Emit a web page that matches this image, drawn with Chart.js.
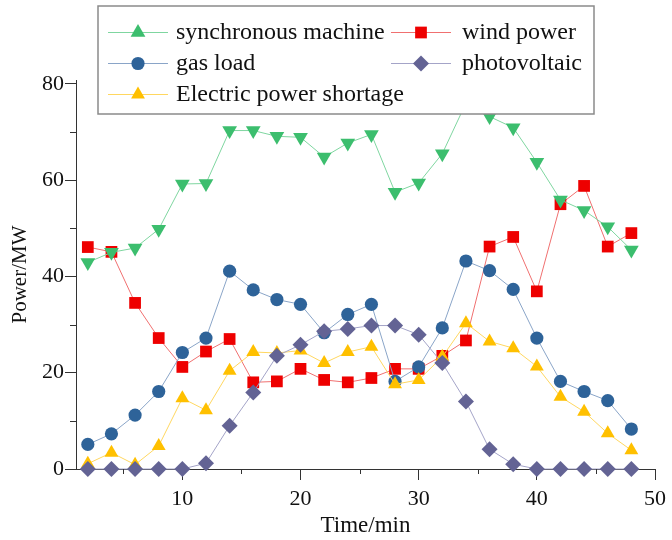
<!DOCTYPE html>
<html>
<head>
<meta charset="utf-8">
<script src="https://cdn.jsdelivr.net/npm/chart.js@4.4.1/dist/chart.umd.min.js"></script>
<style>
  body { margin: 0; background: #fff; }
  canvas { display: block; }
</style>
</head>
<body>
<canvas id="power-chart" width="672" height="540"></canvas>
<script>
// time points (min)
const timeMin = [2, 4, 6, 8, 10, 12, 14, 16, 18, 20, 22, 24, 26, 28, 30, 32, 34, 36, 38, 40, 42, 44, 46, 48];

// power of each source (MW)
const syncMachine = [42.9, 45.0, 45.9, 49.8, 59.2, 59.3, 70.3, 70.3, 69.1, 68.9, 64.8, 67.7, 69.5, 57.5, 59.4, 65.5, 76.0, 73.2, 70.9, 63.7, 55.9, 53.7, 50.3, 45.5];
const windPower = [46.1, 45.1, 34.5, 27.2, 21.2, 24.4, 27.0, 18.0, 18.2, 20.8, 18.5, 18.0, 18.9, 20.8, 20.8, 23.5, 26.7, 46.2, 48.2, 36.9, 55.0, 58.8, 46.2, 49.0];
const gasLoad = [5.1, 7.3, 11.2, 16.1, 24.2, 27.2, 41.1, 37.2, 35.2, 34.2, 28.3, 32.1, 34.2, 18.2, 21.2, 29.3, 43.2, 41.2, 37.3, 27.2, 18.2, 16.1, 14.2, 8.3];
const photovoltaic = [0, 0, 0, 0, 0, 1.2, 9.0, 15.9, 23.5, 25.8, 28.6, 29.1, 29.8, 29.8, 27.9, 22.0, 14.0, 4.1, 1.0, 0, 0, 0, 0, 0];
const powerShortage = [1.1, 3.4, 0.9, 4.8, 14.7, 12.2, 20.4, 24.3, 24.1, 24.6, 22.0, 24.3, 25.4, 17.6, 18.5, 23.3, 30.3, 26.5, 25.1, 21.3, 15.0, 11.9, 7.4, 3.9];

// axis ticks
const xMajor = [10, 20, 30, 40, 50];
const xMinor = [5, 15, 25, 35, 45];
const yMajor = [0, 20, 40, 60, 80];
const yMinor = [10, 30, 50, 70];

const serif = '"Liberation Serif", "Times New Roman", serif';

function series(label, values, line, marker, style, radius, rotation, order) {
  return {
    label: label,
    data: timeMin.map((t, i) => ({ x: t, y: values[i] })),
    borderColor: line,
    borderWidth: 1,
    pointStyle: style,
    pointRotation: rotation,
    pointRadius: radius,
    pointHoverRadius: radius,
    pointBackgroundColor: marker,
    pointBorderWidth: 0,
    legendRotation: 0,
    order: order,
    clip: false
  };
}

const datasets = [
  series('synchronous machine', syncMachine, '#7fd6a0', '#3cbe6e', 'triangle', 8.5, 180, 3),
  series('wind power', windPower, '#f07070', '#ee0000', 'rect', 8.3, 0, 4),
  series('gas load', gasLoad, '#8aa5c8', '#2e6399', 'circle', 6.6, 0, 2),
  series('photovoltaic', photovoltaic, '#a4a4c8', '#636394', 'rectRot', 8, 0, 0),
  series('Electric power shortage', powerShortage, '#ffd760', '#ffc000', 'triangle', 8, 0, 1)
];

// short minor ticks on both axes
const minorTicks = {
  id: 'minorTicks',
  afterDraw(chart) {
    const ctx = chart.ctx;
    const xs = chart.scales.x, ys = chart.scales.y;
    const area = chart.chartArea;
    ctx.save();
    ctx.strokeStyle = '#333';
    ctx.lineWidth = 1;
    ctx.beginPath();
    xMinor.forEach(v => {
      const px = Math.round(xs.getPixelForValue(v)) + 0.5;
      ctx.moveTo(px, area.bottom);
      ctx.lineTo(px, area.bottom + 5);
    });
    yMinor.forEach(v => {
      const py = Math.round(ys.getPixelForValue(v)) + 0.5;
      ctx.moveTo(area.left, py);
      ctx.lineTo(area.left - 6, py);
    });
    ctx.stroke();
    ctx.restore();
  }
};

// boxed legend laid out in two columns
const boxLegend = {
  id: 'boxLegend',
  afterDraw(chart) {
    const ctx = chart.ctx;
    const box = { left: 98, top: 6, right: 594, bottom: 114 };
    const cols = [{ line: 108, text: 176 }, { line: 391, text: 462 }];
    const rows = [32, 63, 94];
    const slots = [[0, 0], [1, 0], [0, 1], [1, 1], [0, 2]];
    ctx.save();
    ctx.fillStyle = '#fff';
    ctx.fillRect(box.left, box.top, box.right - box.left, box.bottom - box.top);
    ctx.strokeStyle = '#8a8a8a';
    ctx.lineWidth = 1.5;
    ctx.strokeRect(box.left, box.top, box.right - box.left, box.bottom - box.top);
    ctx.font = '24px ' + serif;
    ctx.textBaseline = 'middle';
    chart.data.datasets.forEach((ds, i) => {
      const col = cols[slots[i][0]];
      const y = rows[slots[i][1]] + 0.5;
      ctx.strokeStyle = ds.borderColor;
      ctx.lineWidth = 1;
      ctx.beginPath();
      ctx.moveTo(col.line, y);
      ctx.lineTo(col.line + 60, y);
      ctx.stroke();
      ctx.fillStyle = ds.pointBackgroundColor;
      Chart.helpers.drawPoint(ctx, {
        pointStyle: ds.pointStyle,
        rotation: ds.legendRotation,
        radius: ds.pointRadius,
        borderWidth: 0
      }, col.line + 30, y);
      ctx.fillStyle = '#111';
      ctx.fillText(ds.label, col.text, y);
    });
    ctx.restore();
  }
};

const ctx = document.getElementById('power-chart').getContext('2d');
new Chart(ctx, {
  type: 'line',
  data: { datasets: datasets },
  plugins: [minorTicks, boxLegend],
  options: {
    responsive: false,
    animation: false,
    layout: { padding: { top: 80, right: 15, left: 0, bottom: 0 } },
    plugins: {
      legend: { display: false },
      tooltip: { enabled: false }
    },
    scales: {
      x: {
        type: 'linear',
        min: 1,
        max: 50,
        afterBuildTicks: s => { s.ticks = xMajor.map(v => ({ value: v })); },
        afterFit: s => { s.height = 71; },
        grid: { drawOnChartArea: false, tickLength: 11, color: '#333' },
        border: { color: '#333', width: 1 },
        ticks: { color: '#111', padding: 6, maxRotation: 0, font: { family: serif, size: 22 } },
        title: { display: true, text: 'Time/min', color: '#111', padding: { top: 0, bottom: 0 }, font: { family: serif, size: 23 } }
      },
      y: {
        min: 0,
        max: 80.8,
        afterBuildTicks: s => { s.ticks = yMajor.map(v => ({ value: v })); },
        afterFit: s => { s.width = 76; },
        grid: { drawOnChartArea: false, tickLength: 11, color: '#333' },
        border: { color: '#333', width: 1 },
        ticks: { color: '#111', padding: 1, font: { family: serif, size: 22 } },
        title: { display: true, text: 'Power/MW', color: '#111', padding: { top: 8, bottom: 0 }, font: { family: serif, size: 21 } }
      }
    }
  }
});
</script>
</body>
</html>
